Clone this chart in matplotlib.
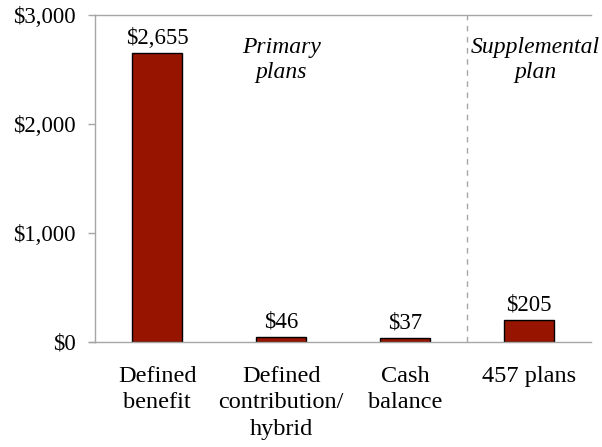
import matplotlib.pyplot as plt

categories = ['Defined\nbenefit', 'Defined\ncontribution/\nhybrid', 'Cash\nbalance', '457 plans']
values = [2655, 46, 37, 205]
value_labels = ['$2,655', '$46', '$37', '$205']
yticks = [0, 1000, 2000, 3000]
ytick_labels = ['$0', '$1,000', '$2,000', '$3,000']

plt.rcParams['font.family'] = ['Liberation Serif', 'DejaVu Serif']

fig = plt.figure(figsize=(6.02, 4.47), dpi=100)
ax = fig.add_axes([0.158, 0.235, 0.824, 0.731])

x = range(len(categories))
bars = ax.bar(x, values, width=0.4, color='#961400', edgecolor='black', linewidth=1)

for bar, lab in zip(bars, value_labels):
    ax.annotate(lab, (bar.get_x() + bar.get_width() / 2, bar.get_height()),
                xytext=(0, 3), textcoords='offset points',
                ha='center', va='bottom', fontsize=16.5)

ax.set_xlim(-0.5, 3.5)
ax.set_ylim(0, 3000)
ax.set_yticks(yticks)
ax.set_yticklabels(ytick_labels, fontsize=16.5)
ax.set_xticks(list(x))
ax.set_xticklabels(categories, fontsize=17.5, linespacing=1.35, va='top')
ax.tick_params(axis='x', length=0, pad=17)
ax.tick_params(axis='y', length=5, width=1, color='#a6a6a6', pad=9)

for s in ['left', 'bottom', 'top']:
    ax.spines[s].set_color('#a6a6a6')
    ax.spines[s].set_linewidth(1)
ax.spines['right'].set_visible(False)

# extend the zero line a bit to the left like the original
ax.plot([-0.55, -0.5], [0, 0], color='#a6a6a6', lw=1, clip_on=False)

ax.axvline(2.5, color='#a6a6a6', lw=1, ls=(0, (4, 4)))

ax.text(1.0, 2590, 'Primary\nplans', style='italic', ha='center', va='center',
        fontsize=17, linespacing=1.25)
ax.text(3.05, 2590, 'Supplemental\nplan', style='italic', ha='center', va='center',
        fontsize=17, linespacing=1.25)

fig.savefig('out.png', dpi=100)
